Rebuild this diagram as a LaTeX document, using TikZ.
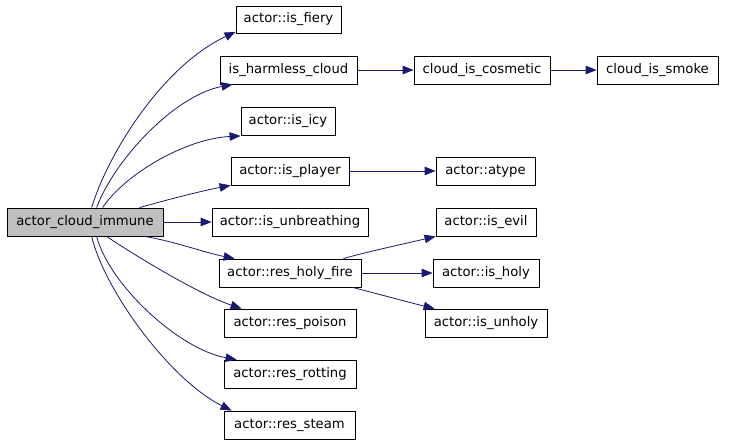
\documentclass[tikz,border=0pt]{standalone}
\usepackage{fontspec}
\setmainfont{DejaVu Sans}
\usetikzlibrary{arrows.meta,calc}
\definecolor{edgeblue}{HTML}{191970}
\definecolor{mainfill}{HTML}{BFBFBF}
\tikzset{
  fnode/.style={draw=black,line width=0.8pt,fill=white,inner sep=0pt,minimum height=28,
    font=\fontsize{13.2}{15}\selectfont,anchor=center},
  mainnode/.style={fnode,fill=mainfill},
  edge/.style={draw=edgeblue,line width=0.8pt,-{Triangle[length=11pt,width=8.5pt]}},
}
\begin{document}
\begin{tikzpicture}[x=1pt,y=-1pt]
\useasboundingbox (0,0) rectangle (731,443);
\fill[white] (0,0) rectangle (731,443);
% nodes
\node[mainnode,minimum width=156] (main) at (85,222) {actor\_cloud\_immune};
\node[fnode,minimum width=105,minimum height=27] (fiery) at (288.5,19.5) {actor::is\_fiery};
\node[fnode,minimum width=137] (harmless) at (288.5,70) {is\_harmless\_cloud};
\node[fnode,minimum width=136] (cosmetic) at (482,70) {cloud\_is\_cosmetic};
\node[fnode,minimum width=121] (smoke) at (657.5,70) {cloud\_is\_smoke};
\node[fnode,minimum width=94] (icy) at (288,121.5) {actor::is\_icy};
\node[fnode,minimum width=118] (player) at (290,171) {actor::is\_player};
\node[fnode,minimum width=99] (atype) at (485.5,171) {actor::atype};
\node[fnode,minimum width=156] (unbreathing) at (290,222) {actor::is\_unbreathing};
\node[fnode,minimum width=100] (evil) at (486,222) {actor::is\_evil};
\node[fnode,minimum width=142] (holyfire) at (290,273) {actor::res\_holy\_fire};
\node[fnode,minimum width=106] (holy) at (486,273) {actor::is\_holy};
\node[fnode,minimum width=122] (unholy) at (486,323) {actor::is\_unholy};
\node[fnode,minimum width=132] (poison) at (290,323) {actor::res\_poison};
\node[fnode,minimum width=132] (rotting) at (290,374) {actor::res\_rotting};
\node[fnode,minimum width=131] (steam) at (289.5,425) {actor::res\_steam};
% edges from main
\draw[edge] ($(main.north west)+(85,0)$) .. controls +(18,-58) and +(-71,33) .. ($(fiery.south west)+(0,-1.5)$);
\draw[edge] ($(main.north west)+(90,0)$) .. controls +(18,-48) and +(-58,11) .. ($(harmless.south west)+(13,0)$);
\draw[edge] ($(main.north west)+(96,0)$) .. controls +(22,-33) and +(-56,3) .. (icy.south west);
\draw[edge] ($(main.north west)+(133,0)$) .. controls +(35,-10) and +(-26,5) .. (player.south west);
\draw[edge] (main.east) -- (unbreathing.west);
\draw[edge] ($(main.south west)+(138,0)$) .. controls +(30,5) and +(-30,-6) .. ($(holyfire.north west)+(16,0)$);
\draw[edge] ($(main.south west)+(100,0)$) .. controls +(28,19) and +(-42,-14) .. ($(poison.north west)+(18,0)$);
\draw[edge] ($(main.south west)+(90,0)$) .. controls +(13,49) and +(-57,-10) .. ($(rotting.north west)+(13,0)$);
\draw[edge] ($(main.south west)+(85,0)$) .. controls +(13,54) and +(-62,-31) .. ($(steam.north west)+(8,0)$);
% secondary edges
\draw[edge] (harmless.east) -- (cosmetic.west);
\draw[edge] (cosmetic.east) -- (smoke.west);
\draw[edge] (player.east) -- (atype.west);
\draw[edge] (holyfire.east) -- (holy.west);
\draw[edge] ($(holyfire.north east)+(-18,0)$) .. controls +(20,-6) and +(-25,6) .. (evil.south west);
\draw[edge] ($(holyfire.south east)+(-9,0)$) .. controls +(20,5) and +(-25,-6) .. ($(unholy.north west)+(10,0)$);
\end{tikzpicture}
\end{document}
